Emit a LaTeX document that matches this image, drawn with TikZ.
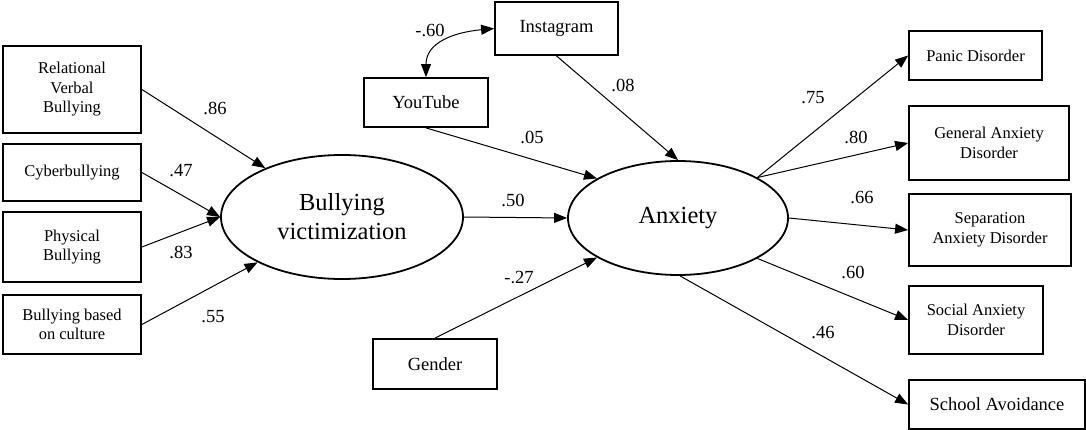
\documentclass[tikz,border=0pt]{standalone}
\usepackage{fontspec}
\setmainfont{Liberation Serif}
\newfontfamily\tnr{Liberation Serif}
\usetikzlibrary{arrows.meta,shapes.geometric}
\tikzset{
  obs/.style={draw, line width=1.8pt, rectangle, inner sep=0pt, align=center,
    font=\tnr\fontsize{16.5}{19.5}\selectfont},
  obsbig/.style={obs, font=\tnr\fontsize{18.5}{21}\selectfont},
  lat/.style={draw, line width=1.8pt, ellipse, inner sep=0pt, align=center,
    font=\tnr\fontsize{24.5}{29}\selectfont},
  path/.style={line width=1pt, -{Triangle[length=13pt,width=10pt]}},
  coef/.style={font=\tnr\fontsize{18.5}{21}\selectfont, inner sep=0pt}
}
\begin{document}
\begin{tikzpicture}[x=1pt,y=-1pt]
\useasboundingbox (0,0) rectangle (1086,430);
% left indicators
\node[obs, minimum width=138, minimum height=87] (rvb) at (72,89.5) {Relational\\Verbal\\Bullying};
\node[obs, minimum width=138, minimum height=57] (cyb) at (72,172.5) {Cyberbullying};
\node[obs, minimum width=138, minimum height=70] (phy) at (72,247) {Physical\\Bullying};
\node[obs, minimum width=138, minimum height=59] (cul) at (72,324.5) {Bullying based\\on culture};
% latent
\node[lat, minimum width=242, minimum height=124] (bv) at (342,217) {Bullying\\victimization};
\node[lat, minimum width=220, minimum height=114] (anx) at (678,218) {Anxiety};
% predictors
\node[obsbig, minimum width=123, minimum height=53] (insta) at (556.5,28.5) {Instagram};
\node[obsbig, minimum width=124, minimum height=49] (yt) at (426,102.5) {YouTube};
\node[obsbig, minimum width=124, minimum height=50] (gen) at (435,364) {Gender};
% right indicators
\node[obs, minimum width=133, minimum height=49] (pan) at (975.5,55.5) {Panic Disorder};
\node[obs, minimum width=160, minimum height=74] (gad) at (989,143) {General Anxiety\\Disorder};
\node[obs, minimum width=162, minimum height=72] (sep) at (990,230) {Separation\\Anxiety Disorder};
\node[obs, minimum width=134, minimum height=68] (soc) at (976,320) {Social Anxiety\\Disorder};
\node[obsbig, minimum width=176, minimum height=49] (sch) at (997,404.5) {School Avoidance};
% connectors
\draw[path] (rvb.east) -- (bv);
\draw[path] (cyb.east) -- (bv.west);
\draw[path] (phy.east) -- (bv.west);
\draw[path] (cul.east) -- (bv);
\draw[path] (bv.east) -- (anx.west);
\draw[path] (insta.south) -- (anx.north);
\draw[path] (yt.south) -- (anx.154);
\draw[path] (gen.north) -- (anx.206);
\draw[line width=1pt, {Triangle[length=13pt,width=10pt]}-{Triangle[length=13pt,width=10pt]}]
  (insta.west) .. controls +(-42,4) and +(0,-34) .. (yt.north);
\draw[path] (anx.27) -- (pan.west);
\draw[path] (anx.27) -- (gad.west);
\draw[path] (anx.east) -- (sep.west);
\draw[path] (anx.-27) -- (soc.west);
\draw[path] (anx.-88) -- (sch.west);
% coefficients
\node[coef] (c1) at (215,108) {.86};
\node[coef] (c2) at (181,171) {.47};
\node[coef] (c3) at (181,252) {.83};
\node[coef] (c4) at (213,317) {.55};
\node[coef] (c5) at (513,200) {.50};
\node[coef] (c6) at (623,85) {.08};
\node[coef] (c7) at (532,137) {.05};
\node[coef] (c8) at (519,278) {-.27};
\node[coef] (c9) at (430,30) {-.60};
\node[coef] (c10) at (813,98) {.75};
\node[coef] (c11) at (856,137) {.80};
\node[coef] (c12) at (862,198) {.66};
\node[coef] (c13) at (853,272) {.60};
\node[coef] (c14) at (823,333) {.46};
\end{tikzpicture}
\end{document}
